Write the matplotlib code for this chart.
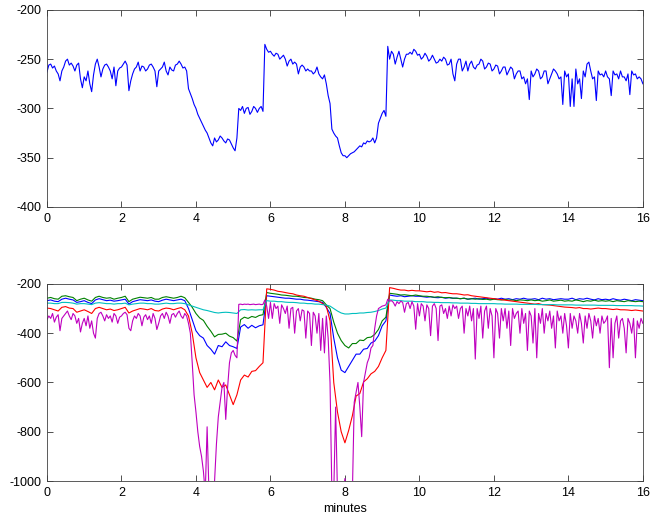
import numpy as np
import matplotlib.pyplot as plt

plt.rcParams['font.family'] = ['Liberation Sans', 'DejaVu Sans']
plt.rcParams['axes.unicode_minus'] = False

# top panel: one trace, sampled every 0.05 min
t_fine = np.arange(321) * 0.05
top = [
    -263, -256, -255, -259, -257, -262, -265, -272, -262, -258, -252, -250, -256, -254, -257, -262, -256, -254, -270, -279,
    -268, -272, -262, -275, -283, -266, -255, -250, -258, -268, -260, -256, -255, -258, -262, -270, -258, -277, -262, -259,
    -258, -255, -252, -256, -282, -272, -265, -260, -258, -253, -262, -257, -258, -262, -260, -256, -255, -258, -262, -278,
    -262, -260, -258, -253, -262, -266, -258, -261, -262, -256, -255, -252, -255, -259, -258, -262, -280, -285, -290, -296,
    -300, -306, -310, -314, -318, -322, -325, -330, -335, -338, -330, -334, -332, -328, -330, -333, -335, -331, -332, -336,
    -340, -343, -330, -300, -302, -298, -305, -300, -299, -306, -303, -298, -300, -304, -300, -298, -303, -235, -240, -243,
    -242, -245, -247, -244, -245, -250, -248, -246, -250, -257, -252, -250, -255, -253, -255, -265, -258, -256, -258, -262,
    -260, -262, -262, -265, -263, -258, -265, -268, -270, -266, -275, -287, -295, -321, -325, -328, -330, -338, -345, -348,
    -348, -350, -348, -346, -345, -344, -342, -340, -338, -339, -335, -336, -333, -334, -333, -330, -335, -330, -315, -310,
    -305, -302, -308, -237, -250, -242, -245, -255, -248, -242, -250, -258, -250, -245, -245, -243, -245, -240, -242, -246,
    -245, -250, -248, -244, -247, -252, -250, -246, -250, -254, -253, -250, -252, -248, -250, -256, -255, -250, -265, -272,
    -255, -250, -250, -262, -258, -252, -262, -255, -252, -258, -260, -256, -255, -250, -252, -260, -258, -254, -255, -262,
    -260, -256, -257, -265, -262, -258, -258, -266, -262, -258, -260, -270, -265, -262, -262, -270, -268, -275, -270, -291,
    -262, -268, -265, -260, -262, -270, -268, -262, -262, -275, -270, -265, -260, -262, -265, -270, -268, -296, -262, -268,
    -265, -298, -270, -298, -260, -275, -270, -290, -262, -268, -255, -253, -262, -270, -268, -292, -262, -266, -265, -268,
    -262, -268, -270, -287, -262, -266, -265, -270, -262, -268, -268, -272, -265, -286, -262, -266, -265, -270, -268, -270,
    -275,
]

# bottom panel: five traces, sampled every 0.1 min (magenta every 0.05)
t_coarse = np.arange(161) * 0.1
blue = [
    -268, -265, -270, -272, -262, -258, -262, -265, -275, -272,
    -268, -275, -280, -265, -260, -264, -268, -266, -270, -268,
    -265, -262, -282, -272, -268, -264, -266, -268, -265, -270,
    -272, -266, -262, -265, -268, -265, -262, -268, -300, -345,
    -390, -410, -420, -450, -465, -485, -450, -455, -435, -450,
    -455, -462, -375, -365, -380, -368, -378, -370, -366, -248,
    -250, -252, -254, -256, -258, -258, -260, -262, -262, -265,
    -266, -268, -270, -272, -275, -295, -320, -420, -500, -550,
    -560, -535, -510, -485, -485, -465, -462, -440, -432, -410,
    -370, -350, -245, -248, -250, -248, -252, -250, -248, -250,
    -250, -252, -254, -252, -255, -256, -254, -258, -256, -258,
    -258, -260, -258, -262, -260, -258, -262, -260, -258, -262,
    -260, -262, -258, -262, -260, -264, -260, -262, -258, -262,
    -262, -260, -264, -258, -262, -260, -264, -262, -260, -262,
    -262, -258, -264, -260, -262, -258, -262, -265, -260, -264,
    -262, -265, -260, -264, -266, -262, -265, -268, -264, -266,
    -268,
]
green = [
    -258, -255, -260, -262, -250, -248, -252, -255, -268, -262,
    -258, -265, -270, -255, -250, -255, -258, -256, -262, -258,
    -255, -250, -272, -262, -258, -254, -256, -258, -255, -262,
    -262, -255, -252, -255, -258, -255, -250, -256, -275, -295,
    -320, -338, -348, -372, -392, -415, -405, -404, -400, -412,
    -418, -432, -345, -335, -340, -332, -336, -328, -325, -235,
    -238, -240, -242, -245, -246, -248, -250, -250, -252, -255,
    -256, -258, -262, -264, -268, -285, -300, -355, -400, -430,
    -450, -460, -442, -442, -428, -430, -418, -416, -405, -385,
    -350, -335, -238, -240, -242, -245, -244, -246, -248, -245,
    -248, -250, -250, -252, -254, -252, -255, -256, -255, -258,
    -258, -260, -258, -262, -260, -262, -260, -263, -262, -265,
    -262, -264, -265, -263, -266, -265, -268, -265, -266, -268,
    -265, -268, -266, -270, -268, -265, -270, -268, -266, -270,
    -268, -270, -265, -268, -272, -268, -270, -266, -270, -268,
    -270, -268, -272, -268, -270, -272, -268, -270, -272, -270,
    -272,
]
red = [
    -298, -300, -305, -310, -295, -292, -298, -300, -315, -310,
    -305, -312, -320, -300, -295, -300, -305, -302, -308, -305,
    -300, -295, -318, -310, -305, -300, -302, -305, -300, -308,
    -310, -302, -298, -300, -305, -300, -296, -305, -330, -400,
    -500, -560, -590, -620, -600, -630, -590, -620, -610, -650,
    -690, -650, -590, -570, -578, -555, -552, -535, -520, -220,
    -222, -225, -230, -232, -235, -238, -240, -245, -248, -250,
    -255, -260, -265, -270, -280, -290, -350, -600, -720, -800,
    -845, -795, -735, -655, -645, -598, -585, -565, -555, -535,
    -500, -470, -215, -218, -222, -225, -225, -228, -226, -228,
    -228, -230, -232, -230, -234, -232, -236, -235, -238, -240,
    -240, -242, -245, -244, -248, -250, -252, -254, -256, -258,
    -260, -262, -264, -266, -268, -270, -272, -274, -276, -278,
    -280, -282, -280, -284, -285, -286, -288, -290, -292, -294,
    -295, -296, -298, -296, -300, -300, -302, -300, -298, -300,
    -300, -302, -304, -302, -305, -305, -306, -308, -306, -308,
    -310,
]
cyan = [
    -278, -278, -280, -280, -275, -275, -276, -278, -282, -280,
    -280, -282, -284, -278, -276, -278, -280, -280, -282, -280,
    -280, -278, -285, -282, -280, -278, -278, -280, -280, -282,
    -282, -280, -278, -280, -280, -278, -278, -280, -285, -290,
    -295, -300, -305, -308, -312, -316, -318, -316, -315, -316,
    -318, -320, -305, -304, -306, -305, -306, -305, -305, -268,
    -270, -270, -272, -272, -274, -275, -275, -276, -278, -278,
    -280, -280, -282, -282, -284, -286, -290, -300, -310, -318,
    -322, -322, -320, -320, -318, -318, -316, -315, -312, -308,
    -302, -298, -265, -266, -268, -268, -270, -270, -270, -272,
    -272, -272, -274, -274, -275, -275, -276, -276, -276, -277,
    -277, -278, -278, -278, -279, -279, -280, -280, -280, -280,
    -280, -281, -281, -282, -282, -282, -282, -283, -283, -283,
    -283, -283, -284, -284, -284, -284, -284, -285, -285, -285,
    -285, -285, -286, -286, -286, -286, -286, -286, -287, -287,
    -287, -287, -287, -288, -288, -288, -288, -288, -289, -289,
    -290,
]
magenta = [
    -345, -330, -340, -320, -355, -335, -325, -390, -340, -330, -320, -310, -330, -345, -320, -330, -360, -340, -395, -360,
    -340, -370, -330, -380, -350, -400, -420, -340, -320, -315, -330, -350, -325, -340, -330, -355, -320, -330, -360, -335,
    -330, -320, -315, -325, -380, -390, -350, -330, -340, -320, -330, -370, -335, -325, -345, -330, -360, -320, -340, -385,
    -360, -330, -320, -340, -315, -330, -360, -325, -320, -335, -320, -310, -330, -340, -320, -330, -360, -400, -520, -650,
    -720, -800, -860, -900, -960, -1050, -780, -1050, -1050, -1050, -1000, -850, -740, -680, -620, -600, -750, -620, -520, -480,
    -470, -490, -500, -283, -282, -284, -282, -283, -282, -284, -283, -282, -284, -283, -282, -284, -283, -265, -290, -340,
    -275, -340, -280, -300, -290, -360, -285, -300, -320, -290, -380, -300, -295, -400, -310, -300, -350, -305, -310, -420,
    -310, -320, -450, -315, -330, -400, -320, -470, -340, -480, -330, -420, -600, -1050, -1050, -700, -1050, -1050, -1050, -1050,
    -990, -1050, -1050, -1050, -1050, -680, -640, -600, -700, -820, -600, -560, -520, -500, -460, -450, -380, -330, -300, -295,
    -290, -288, -285, -262, -270, -268, -275, -290, -272, -280, -270, -275, -315, -280, -275, -300, -272, -290, -384, -280,
    -330, -280, -290, -350, -285, -300, -410, -290, -280, -300, -430, -290, -285, -320, -300, -340, -290, -330, -285, -300,
    -290, -340, -300, -290, -400, -300, -330, -290, -350, -300, -505, -300, -340, -290, -420, -310, -290, -380, -300, -330,
    -500, -300, -320, -420, -300, -350, -300, -380, -310, -450, -300, -340, -320, -310, -400, -300, -360, -320, -470, -310,
    -330, -440, -300, -500, -320, -360, -300, -400, -320, -350, -310, -380, -330, -460, -310, -350, -330, -400, -320, -370,
    -460, -320, -380, -330, -350, -400, -320, -360, -440, -330, -380, -320, -350, -420, -330, -370, -340, -400, -330, -360,
    -350, -330, -540, -340, -500, -360, -330, -420, -350, -340, -380, -480, -340, -360, -400, -340, -500, -350, -380, -340,
    -360,
]


def style(ax):
    ax.set_xlim(0, 16)
    ax.set_xticks(range(0, 17, 2))
    ax.tick_params(direction='in', top=True, right=True, length=4,
                   width=0.6, labelsize=9, colors='0.2', labelcolor='black', pad=4)
    for s in ax.spines.values():
        s.set_linewidth(0.6)
        s.set_color('0.25')


fig = plt.figure(figsize=(6.56, 5.2), dpi=100)
ax1 = fig.add_axes([0.0716, 0.602, 0.9084, 0.379])
ax2 = fig.add_axes([0.0716, 0.075, 0.9084, 0.379])

ax1.plot(t_fine, top, color='#0000ff', lw=0.8)
ax1.set_ylim(-400, -200)
ax1.set_yticks(range(-400, -199, 50))
style(ax1)

ax2.plot(t_coarse, blue, color='#0000ff', lw=0.8)
ax2.plot(t_coarse, green, color='#008000', lw=0.8)
ax2.plot(t_coarse, red, color='#ff0000', lw=0.8)
ax2.plot(t_coarse, cyan, color='#00bfbf', lw=0.8)
ax2.plot(t_fine, magenta, color='#bf00bf', lw=0.8)
ax2.set_ylim(-1000, -200)
ax2.set_yticks(range(-1000, -199, 200))
ax2.set_xlabel('minutes', fontsize=9, labelpad=3)
style(ax2)

fig.savefig('out.png', dpi=100)
